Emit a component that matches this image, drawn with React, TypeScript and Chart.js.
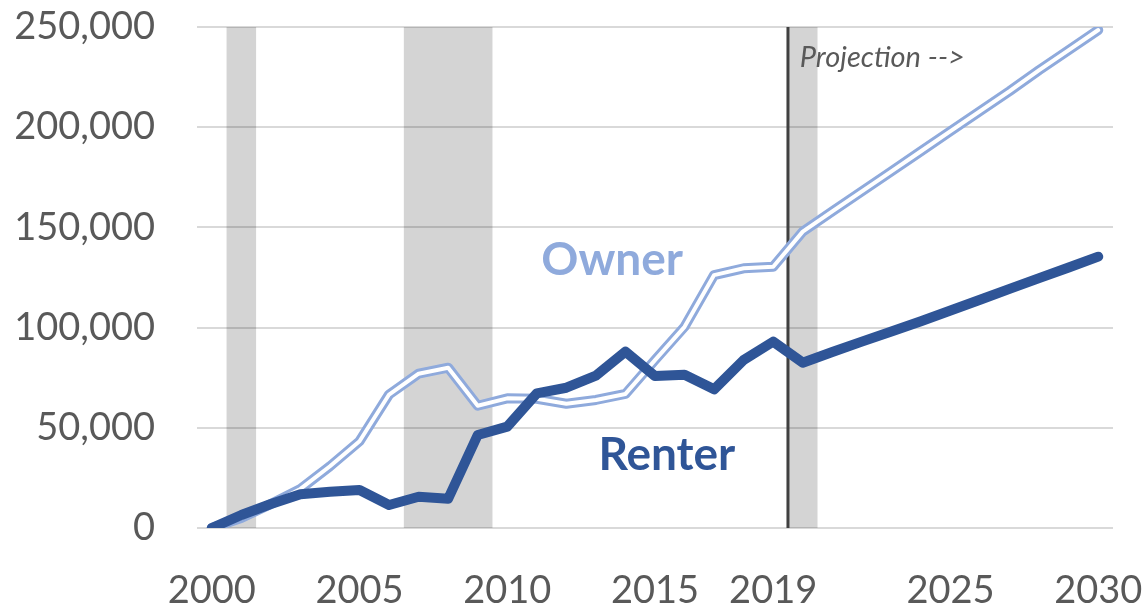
import React, { useEffect, useRef } from 'react';
import { Chart, registerables } from 'chart.js';

Chart.register(...registerables);

const years = [
  '2000', '2001', '2002', '2003', '2004', '2005', '2006', '2007', '2008', '2009',
  '2010', '2011', '2012', '2013', '2014', '2015', '2016', '2017', '2018', '2019',
  '2020', '2021', '2022', '2023', '2024', '2025', '2026', '2027', '2028', '2029', '2030',
];
const tickYears = ['2000', '2005', '2010', '2015', '2019', '2025', '2030'];

const renterValues = [
  0, 6500, 12000, 16800, 18100, 19000, 11500, 15600, 14600, 46400,
  50600, 67200, 70000, 76000, 88000, 75800, 76500, 69200, 83800, 93000,
  82500, 87800, 93000, 98000, 103200, 108500, 113900, 119300, 124700, 130000, 135400,
];
const ownerValues = [
  0, 5000, 12000, 19500, 30800, 43300, 66600, 77000, 80000, 61000,
  64700, 64500, 62000, 63900, 66900, 83800, 100400, 126200, 129600, 130400,
  147900, 158000, 168000, 178000, 188000, 198000, 208000, 218000, 228500, 238500, 248500,
];
const recessionYears = ['2001', '2007', '2008', '2009', '2020'];
const yMax = 250000;
const yStep = 50000;
const lastActualYear = '2019';

// text annotations in data units (category index offset from 2000, value)
const ownerLabel = { text: 'Owner', year: 13.55, value: 126200 };
const renterLabel = { text: 'Renter', year: 15.4, value: 28900 };
const projectionLabel = { text: 'Projection -->', year: 19.9, value: 230200 };

const FONT = 'Lato, "Open Sans", sans-serif';
const OWNER_COLOR = '#8FAADC';
const RENTER_COLOR = '#2F5597';
const TEXT_GRAY = '#595959';

const annotationPlugin = {
  id: 'annotations',
  afterDatasetDraw(chart: any, args: any) {
    if (args.index !== 0) return;
    const { ctx, chartArea, scales } = chart;
    const idx = years.indexOf(lastActualYear) + 0.5;
    const x = scales.x.getPixelForValue(idx);
    ctx.save();
    ctx.strokeStyle = '#404040';
    ctx.lineWidth = 3;
    ctx.beginPath();
    ctx.moveTo(x, chartArea.top);
    ctx.lineTo(x, chartArea.bottom);
    ctx.stroke();
    ctx.restore();
  },
  afterDatasetsDraw(chart: any) {
    const { ctx, scales } = chart;
    ctx.save();
    ctx.textBaseline = 'alphabetic';
    ctx.textAlign = 'center';
    ctx.font = `bold 46px ${FONT}`;
    ctx.fillStyle = OWNER_COLOR;
    ctx.fillText(ownerLabel.text, scales.x.getPixelForValue(ownerLabel.year), scales.y.getPixelForValue(ownerLabel.value));
    ctx.fillStyle = RENTER_COLOR;
    ctx.fillText(renterLabel.text, scales.x.getPixelForValue(renterLabel.year), scales.y.getPixelForValue(renterLabel.value));
    ctx.textAlign = 'left';
    ctx.font = `italic 29px ${FONT}`;
    ctx.fillStyle = TEXT_GRAY;
    ctx.fillText(projectionLabel.text, scales.x.getPixelForValue(projectionLabel.year), scales.y.getPixelForValue(projectionLabel.value));
    ctx.restore();
  },
};

export default function App() {
  const canvasRef = useRef<HTMLCanvasElement | null>(null);

  useEffect(() => {
    document.body.style.margin = '0';
    const canvas = canvasRef.current;
    if (!canvas) return;
    const recessionData = years.map((y) => (recessionYears.includes(y) ? yMax : 0));
    const chart = new Chart(canvas, {
      type: 'line',
      data: {
        labels: years,
        datasets: [
          {
            label: 'Recession',
            data: recessionData,
            stepped: 'middle',
            borderWidth: 0,
            borderColor: 'rgba(0,0,0,0)',
            backgroundColor: 'rgba(0,0,0,0.17)',
            fill: 'origin',
            pointRadius: 0,
            order: 10,
          } as any,
          {
            label: 'Owner',
            data: ownerValues,
            borderColor: OWNER_COLOR,
            borderWidth: 10,
            pointRadius: 0,
            borderJoinStyle: 'round',
            borderCapStyle: 'round',
            tension: 0,
            fill: false,
            order: 3,
          },
          {
            label: 'Owner inner',
            data: ownerValues,
            borderColor: '#FFFFFF',
            borderWidth: 4,
            pointRadius: 0,
            borderJoinStyle: 'round',
            borderCapStyle: 'round',
            tension: 0,
            fill: false,
            order: 2,
          },
          {
            label: 'Renter',
            data: renterValues,
            borderColor: RENTER_COLOR,
            borderWidth: 10,
            pointRadius: 0,
            borderJoinStyle: 'round',
            borderCapStyle: 'round',
            tension: 0,
            fill: false,
            order: 1,
          },
        ],
      },
      options: {
        animation: false,
        responsive: true,
        maintainAspectRatio: false,
        layout: { padding: { top: 27, right: 32, bottom: 0, left: 0 } },
        plugins: {
          legend: { display: false },
          tooltip: { enabled: false },
          title: { display: false },
        },
        scales: {
          x: {
            type: 'category',
            offset: true,
            grid: { display: false, drawTicks: false },
            border: { display: false },
            afterBuildTicks: (scale: any) => {
              scale.ticks = scale.ticks.filter((t: any) => tickYears.includes(years[t.value]));
            },
            afterFit: (scale: any) => {
              scale.height = 76;
              scale.paddingLeft = 0;
              scale.paddingRight = 0;
              scale.paddingTop = 0;
              scale.paddingBottom = 0;
            },
            ticks: {
              autoSkip: false,
              maxRotation: 0,
              minRotation: 0,
              padding: 40,
              color: TEXT_GRAY,
              font: { family: FONT, size: 38 },
            },
          },
          y: {
            min: 0,
            max: yMax,
            grid: { color: '#D9D9D9', lineWidth: 2, drawTicks: false },
            border: { display: false },
            afterFit: (scale: any) => {
              scale.width = 197;
              scale.paddingLeft = 0;
              scale.paddingRight = 0;
              scale.paddingTop = 0;
              scale.paddingBottom = 0;
            },
            ticks: {
              stepSize: yStep,
              padding: 42,
              color: TEXT_GRAY,
              font: { family: FONT, size: 38 },
              callback: (v: any) => Number(v).toLocaleString('en-US'),
            },
          },
        },
      },
      plugins: [annotationPlugin],
    });
    return () => chart.destroy();
  }, []);

  return (
    <div style={{ position: 'absolute', left: 0, top: 0, width: 1145, height: 604 }}>
      <canvas ref={canvasRef} />
    </div>
  );
}
